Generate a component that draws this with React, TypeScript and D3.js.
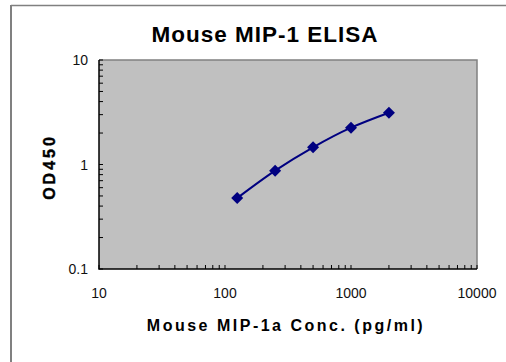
import { useEffect, useRef } from "react";
import * as d3 from "d3";

// standard curve values
const conc = [125, 250, 500, 1000, 2000];
const od450 = [0.477, 0.873, 1.46, 2.25, 3.13];
const xTicks = [10, 100, 1000, 10000];
const yTicks = [0.1, 1, 10];

const W = 506;
const H = 362;

export default function App() {
    const svgRef = useRef<SVGSVGElement>(null);

    useEffect(() => {
        if (!svgRef.current) return;
        const svg = d3.select(svgRef.current);
        svg.selectAll("*").remove();

        const plot = { left: 99, top: 60, right: 477, bottom: 269 };
        const x = d3.scaleLog().domain([10, 10000]).range([plot.left, plot.right]);
        const y = d3.scaleLog().domain([0.1, 10]).range([plot.bottom, plot.top]);

        // outer chart frame (only top/left visible)
        svg.append("line").attr("x1", 11).attr("x2", W).attr("y1", 5.5).attr("y2", 5.5)
            .attr("stroke", "#808080").attr("stroke-width", 1.5);
        svg.append("line").attr("x1", 11).attr("x2", 11).attr("y1", 5).attr("y2", H)
            .attr("stroke", "#808080").attr("stroke-width", 2);

        // plot area
        svg.append("rect")
            .attr("x", plot.left).attr("y", plot.top)
            .attr("width", plot.right - plot.left).attr("height", plot.bottom - plot.top)
            .attr("fill", "#c0c0c0");
        svg.append("path")
            .attr("d", `M${plot.left},${plot.top}H${plot.right}V${plot.bottom}`)
            .attr("fill", "none").attr("stroke", "#808080").attr("stroke-width", 1.5);

        // minor/major ticks, drawn inward
        const gTicks = svg.append("g").attr("stroke", "#000").attr("stroke-width", 1);
        x.ticks().forEach(v => {
            gTicks.append("line").attr("x1", x(v)).attr("x2", x(v))
                .attr("y1", plot.bottom).attr("y2", plot.bottom - 4);
        });
        y.ticks().forEach(v => {
            gTicks.append("line").attr("y1", y(v)).attr("y2", y(v))
                .attr("x1", plot.left).attr("x2", plot.left + 4);
        });

        // axis lines
        svg.append("path")
            .attr("d", `M${plot.left},${plot.top}V${plot.bottom}H${plot.right}`)
            .attr("fill", "none").attr("stroke", "#000").attr("stroke-width", 1.5);

        const labelFont = "'Liberation Sans', Arial, sans-serif";

        // tick labels
        svg.append("g").selectAll("text").data(xTicks).join("text")
            .attr("x", d => x(d)).attr("y", 298)
            .attr("text-anchor", "middle")
            .attr("font-family", labelFont).attr("font-size", 14).attr("fill", "#111")
            .text(d => String(d));
        svg.append("g").selectAll("text").data(yTicks).join("text")
            .attr("x", 88).attr("y", d => y(d) + 5)
            .attr("text-anchor", "end")
            .attr("font-family", labelFont).attr("font-size", 14).attr("fill", "#111")
            .text(d => String(d));

        // title + axis titles
        svg.append("text").attr("x", 265).attr("y", 42)
            .attr("text-anchor", "middle").attr("font-family", labelFont)
            .attr("font-size", 22.5).attr("font-weight", "bold").attr("letter-spacing", 1)
            .text("Mouse MIP-1 ELISA");
        svg.append("text").attr("x", 286).attr("y", 331)
            .attr("text-anchor", "middle").attr("font-family", labelFont)
            .attr("font-size", 16).attr("font-weight", "bold").attr("letter-spacing", 2.5)
            .text("Mouse MIP-1a Conc. (pg/ml)");
        svg.append("text")
            .attr("transform", "translate(55,167) rotate(-90)")
            .attr("text-anchor", "middle").attr("font-family", labelFont)
            .attr("font-size", 16).attr("font-weight", "bold").attr("letter-spacing", 3)
            .attr("stroke", "#000").attr("stroke-width", 0.4)
            .text("OD450");

        // smoothed standard curve
        const pts = conc.map((c, i) => [c, od450[i]] as [number, number]);
        svg.append("path").datum(pts)
            .attr("d", d3.line<[number, number]>().x(d => x(d[0])).y(d => y(d[1])).curve(d3.curveCatmullRom.alpha(0.5)))
            .attr("fill", "none").attr("stroke", "#000080").attr("stroke-width", 2);

        const sym = d3.symbol().type(d3.symbolSquare).size(72);
        svg.append("g").selectAll("path").data(pts).join("path")
            .attr("d", sym)
            .attr("transform", d => `translate(${x(d[0])},${y(d[1])}) rotate(45)`)
            .attr("fill", "#000080");
    }, []);

    return (
        <svg ref={svgRef} width={W} height={H}
            style={{ position: "absolute", left: 0, top: 0, background: "#fff" }} />
    );
}
